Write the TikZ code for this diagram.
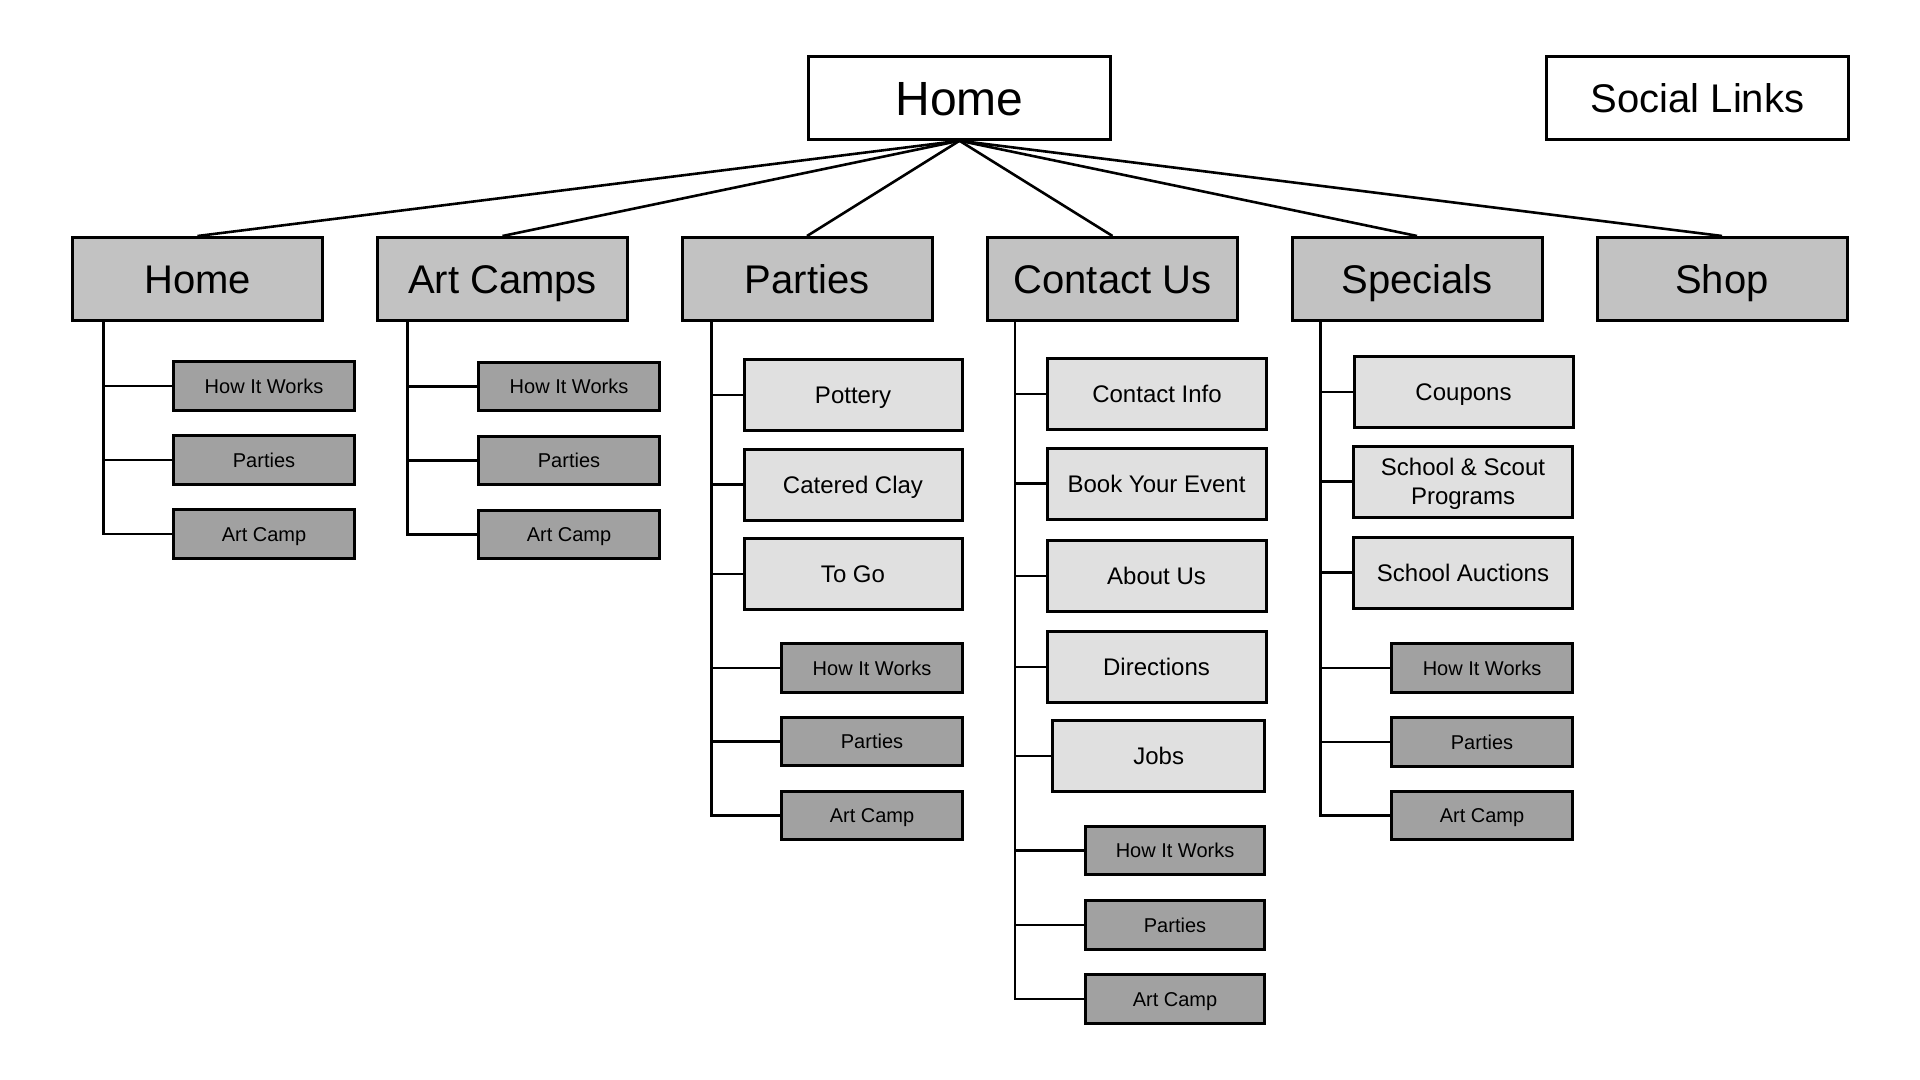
\documentclass[tikz,border=0pt]{standalone}
\usepackage{fontspec}
\setmainfont{Liberation Sans}
\tikzset{
  box/.style={draw=black, line width=1.5pt, inner sep=0pt, align=center, text=black, text depth=0pt},
  topbox/.style={box, fill=white, minimum width=151pt, minimum height=41.25pt, text height=17.2pt, font=\fontsize{24}{28}\selectfont},
  socbox/.style={box, fill=white, minimum width=151pt, minimum height=41.25pt, text height=14.4pt, font=\fontsize{20}{24}\selectfont},
  lonebox/.style={box, fill=lvone, minimum width=125pt, minimum height=41.5pt, text height=14.4pt, font=\fontsize{20}{24}\selectfont},
  litebox/.style={box, fill=lite, minimum width=109pt, minimum height=35.5pt, text height=8.64pt, font=\fontsize{12}{14.8}\selectfont},
  darkbox/.style={box, fill=dark, minimum width=90.5pt, minimum height=24.25pt, text height=7.2pt, font=\fontsize{10}{12}\selectfont},
  twoline/.style={text height={}, text depth=0pt},
  conn/.style={draw=black, line width=1.3pt},
}
\definecolor{lvone}{HTML}{C2C2C2}
\definecolor{lite}{HTML}{E0E0E0}
\definecolor{dark}{HTML}{A1A1A1}
\begin{document}
\begin{tikzpicture}[x=0.5pt,y=-0.5pt]
\useasboundingbox[fill=white] (0,0) rectangle (1920,1080);

% top
\node[topbox] (root) at (959.5,98) {Home};
\node[socbox] (soc) at (1697.5,98) {Social Links};

% level one
\node[lonebox] (hm) at (197.5,279) {Home};
\node[lonebox] (ac) at (502.5,279) {Art Camps};
\node[lonebox] (pa) at (807,279) {Parties};
\node[lonebox] (cu) at (1112.5,279) {Contact Us};
\node[lonebox] (sp) at (1417,279) {Specials};
\node[lonebox] (sh) at (1722,279) {Shop};

\foreach \n in {hm,ac,pa,cu,sp,sh}
  \draw[conn] (root.south) -- (\n.north);

% Home column
\node[darkbox] (hm1) at (264,386) {How It Works};
\node[darkbox] (hm2) at (264,460) {Parties};
\node[darkbox] (hm3) at (264,534) {Art Camp};
\foreach \c in {hm1,hm2,hm3}
  \draw[conn] ([xshift=16.25pt]hm.south west) |- (\c.west);

% Art Camps column
\node[darkbox] (ac1) at (569,386.5) {How It Works};
\node[darkbox] (ac2) at (569,460.5) {Parties};
\node[darkbox] (ac3) at (569,534.5) {Art Camp};
\foreach \c in {ac1,ac2,ac3}
  \draw[conn] ([xshift=15.75pt]ac.south west) |- (\c.west);

% Parties column
\node[litebox] (pa1) at (853,395) {Pottery};
\node[litebox] (pa2) at (853,484.6) {Catered Clay};
\node[litebox] (pa3) at (853,574) {To Go};
\node[darkbox] (pa4) at (872,668) {How It Works};
\node[darkbox] (pa5) at (872,741.5) {Parties};
\node[darkbox] (pa6) at (872,815.5) {Art Camp};
\foreach \c in {pa1,pa2,pa3,pa4,pa5,pa6}
  \draw[conn] ([xshift=15.5pt]pa.south west) |- (\c.west);

% Contact Us column
\node[litebox, minimum width=109.5pt] (cu1) at (1157,394) {Contact Info};
\node[litebox, minimum width=109.5pt] (cu2) at (1156.5,483.5) {Book Your Event};
\node[litebox, minimum width=109.5pt] (cu3) at (1156.5,575.8) {About Us};
\node[litebox, minimum width=109.5pt] (cu4) at (1156.5,666.8) {Directions};
\node[litebox, minimum width=106pt] (cu5) at (1158.7,756) {Jobs};
\node[darkbox, minimum width=89.5pt] (cu6) at (1175,850.5) {How It Works};
\node[darkbox, minimum width=89.5pt] (cu7) at (1175,925) {Parties};
\node[darkbox, minimum width=89.5pt] (cu8) at (1175,999) {Art Camp};
\foreach \c in {cu1,cu2,cu3,cu4,cu5,cu6,cu7,cu8}
  \draw[conn] ([xshift=14.5pt]cu.south west) |- (\c.west);

% Specials column
\node[litebox, minimum width=109.5pt] (sp1) at (1463.5,391.8) {Coupons};
\node[litebox, twoline, minimum width=109.5pt] (sp2) at (1463,481.5) {School \& Scout\\Programs};
\node[litebox, minimum width=109.5pt] (sp3) at (1463,572.5) {School Auctions};
\node[darkbox, minimum width=90.5pt] (sp4) at (1482,668) {How It Works};
\node[darkbox, minimum width=90.5pt] (sp5) at (1482,741.8) {Parties};
\node[darkbox, minimum width=90.5pt] (sp6) at (1482,815.7) {Art Camp};
\foreach \c in {sp1,sp2,sp3,sp4,sp5,sp6}
  \draw[conn] ([xshift=15pt]sp.south west) |- (\c.west);
\end{tikzpicture}
\end{document}
